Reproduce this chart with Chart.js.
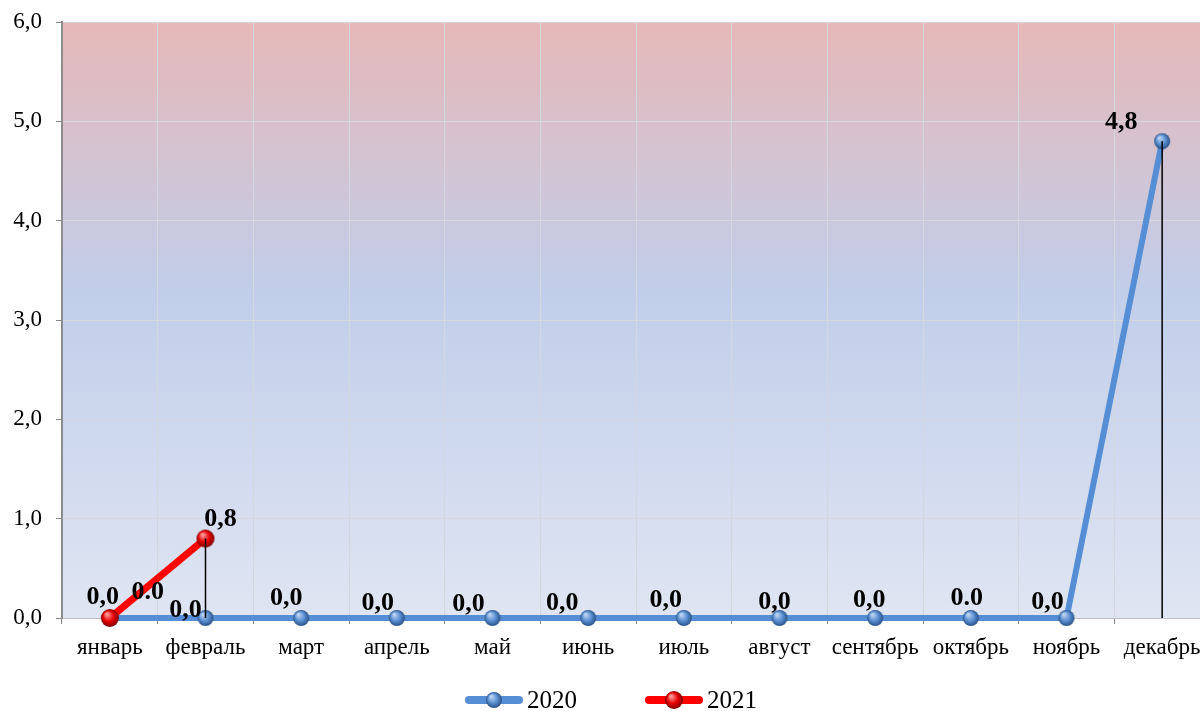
<!DOCTYPE html>
<html>
<head>
<meta charset="utf-8">
<script src="https://cdn.jsdelivr.net/npm/chart.js@4.4.0/dist/chart.umd.min.js"></script>
<style>
  html, body { margin: 0; padding: 0; overflow: hidden; background: #fff; }
  canvas { display: block; }
</style>
</head>
<body>
<canvas id="chart" width="1212" height="711"></canvas>
<script>
const months = ['январь', 'февраль', 'март', 'апрель', 'май', 'июнь', 'июль', 'август', 'сентябрь', 'октябрь', 'ноябрь', 'декабрь']
const values2020 = [0, 0, 0, 0, 0, 0, 0, 0, 0, 0, 0, 4.8]
const values2021 = [0, 0.8]
const labels2020 = ['0.0', '0,0', '0,0', '0,0', '0,0', '0,0', '0,0', '0,0', '0,0', '0.0', '0,0', '4,8']
const labels2021 = ['0,0', '0,8']
const yTickLabels = ['0,0', '1,0', '2,0', '3,0', '4,0', '5,0', '6,0']

// where each value label sits relative to its point (px)
const offsets2020 = [[38, -26], [-20, -8], [-15, -20], [-19, -15], [-24, -14], [-26, -15], [-18, -18], [-5, -16], [-6, -18], [-4, -20], [-19, -16], [-41, -19]]
const offsets2021 = [[-7, -21], [15, -19]]

const FONT = 'Liberation Serif'

function sphere(r, light, mid, dark) {
  const c = document.createElement('canvas')
  c.width = c.height = 2 * r + 2
  const g = c.getContext('2d')
  const cx = r + 1
  const grad = g.createRadialGradient(cx - r * 0.35, cx - r * 0.45, r * 0.1, cx, cx, r)
  grad.addColorStop(0, light)
  grad.addColorStop(0.55, mid)
  grad.addColorStop(1, dark)
  g.fillStyle = grad
  g.beginPath()
  g.arc(cx, cx, r, 0, Math.PI * 2)
  g.fill()
  return c
}

const blueBall = sphere(8, '#b9d3f3', '#5a8fd0', '#2a5288')
const redBall = sphere(9, '#ff9a9a', '#e80000', '#800000')

function legendIcon(color, ball) {
  const c = document.createElement('canvas')
  c.width = 58
  c.height = 22
  const g = c.getContext('2d')
  g.strokeStyle = color
  g.lineWidth = 8
  g.lineCap = 'round'
  g.beginPath()
  g.moveTo(4, 11)
  g.lineTo(54, 11)
  g.stroke()
  g.drawImage(ball, 29 - ball.width / 2, 11 - ball.height / 2)
  return c
}

const plotBg = {
  id: 'plotBg',
  beforeDraw(chart) {
    const { ctx, chartArea: a } = chart
    const g = ctx.createLinearGradient(0, a.top, 0, a.bottom)
    g.addColorStop(0, '#e6b8b8')
    g.addColorStop(0.45, '#c1ceea')
    g.addColorStop(1, '#dfe5f2')
    ctx.save()
    ctx.fillStyle = g
    ctx.fillRect(a.left, a.top, a.right - a.left, a.bottom - a.top)
    ctx.restore()
  },
}

const dropLines = {
  id: 'dropLines',
  afterDatasetsDraw(chart) {
    const { ctx, scales: { x, y } } = chart
    ctx.save()
    ctx.strokeStyle = '#000'
    ctx.lineWidth = 1.5
    months.forEach((m, i) => {
      const vals = chart.data.datasets.map((d) => d.data[i]).filter((v) => v != null)
      const top = Math.max(...vals)
      if (!(top > 0)) return
      const px = x.getPixelForValue(i)
      ctx.beginPath()
      ctx.moveTo(px, y.getPixelForValue(top))
      ctx.lineTo(px, y.getPixelForValue(0))
      ctx.stroke()
    })
    ctx.restore()
  },
}

const valueLabels = {
  id: 'valueLabels',
  afterDatasetsDraw(chart) {
    const { ctx } = chart
    ctx.save()
    ctx.font = 'bold 26px "' + FONT + '"'
    ctx.fillStyle = '#000'
    ctx.textAlign = 'center'
    ctx.textBaseline = 'middle'
    chart.data.datasets.forEach((d, di) => {
      const meta = chart.getDatasetMeta(di)
      meta.data.forEach((pt, i) => {
        const off = d.labelOffsets[i]
        ctx.fillText(d.valueLabels[i], pt.x + off[0], pt.y + off[1])
      })
    })
    ctx.restore()
  },
}

const bottomLegend = {
  id: 'bottomLegend',
  afterDraw(chart, args, opts) {
    const { ctx } = chart
    ctx.save()
    ctx.font = '25px "' + FONT + '"'
    ctx.textBaseline = 'middle'
    ctx.textAlign = 'left'
    ctx.fillStyle = '#000'
    const items = chart.data.datasets.map((d) => ({ icon: d.legendIcon, text: d.label, w: 58 + 4 + ctx.measureText(d.label).width }))
    const total = items.reduce((s, it) => s + it.w, 0) + opts.gap * (items.length - 1)
    let x = opts.center - total / 2
    items.forEach((it) => {
      ctx.drawImage(it.icon, x, opts.y - it.icon.height / 2)
      ctx.fillText(it.text, x + 62, opts.y + 1)
      x += it.w + opts.gap
    })
    ctx.restore()
  },
}

new Chart(document.getElementById('chart'), {
  type: 'line',
  data: {
    labels: months,
    datasets: [
      {
        label: '2020',
        data: values2020,
        borderColor: '#558ed5',
        borderWidth: 6,
        pointStyle: blueBall,
        pointRadius: 8,
        order: 1,
        clip: false,
        valueLabels: labels2020,
        labelOffsets: offsets2020,
        legendIcon: legendIcon('#558ed5', blueBall),
      },
      {
        label: '2021',
        data: values2021,
        borderColor: '#ff0000',
        borderWidth: 7,
        pointStyle: redBall,
        pointRadius: 9,
        order: 0,
        clip: false,
        valueLabels: labels2021,
        labelOffsets: offsets2021,
        legendIcon: legendIcon('#ff0000', redBall),
      },
    ],
  },
  options: {
    responsive: false,
    devicePixelRatio: 1,
    animation: false,
    layout: { autoPadding: false, padding: { top: 22, right: 2, left: 0, bottom: 48 } },
    plugins: {
      legend: { display: false },
      tooltip: { enabled: false },
      bottomLegend: { center: 611, y: 700, gap: 68 },
    },
    scales: {
      x: {
        offset: true,
        grid: { offset: true, color: '#d3d7de', tickColor: '#868686', tickLength: 6, lineWidth: 1 },
        border: { color: '#bfbfbf', width: 1 },
        ticks: { font: { family: FONT, size: 23 }, color: '#000', padding: 10, maxRotation: 0, autoSkip: false },
        afterFit(s) {
          s.height = 45
          s.paddingLeft = 0
          s.paddingRight = 0
        },
      },
      y: {
        min: 0,
        max: 6,
        ticks: {
          stepSize: 1,
          callback: (v, i) => yTickLabels[i],
          font: { family: FONT, size: 23 },
          color: '#000',
          padding: 14,
        },
        grid: { color: '#d6d8de', tickColor: '#868686', tickLength: 6, lineWidth: 1 },
        border: { color: '#8c8c8c', width: 2 },
        afterFit(s) {
          s.width = 62
          s.paddingTop = 0
          s.paddingBottom = 0
        },
      },
    },
  },
  plugins: [plotBg, dropLines, valueLabels, bottomLegend],
})
</script>
</body>
</html>
